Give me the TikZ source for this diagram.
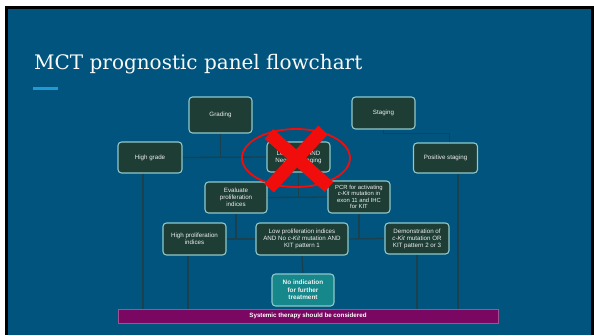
\documentclass[tikz,border=0pt]{standalone}
\usepackage{fontspec}
\setmainfont{Liberation Sans}
\newfontfamily\titlefont{DejaVu Serif}
\usetikzlibrary{backgrounds}
\definecolor{bgblue}{HTML}{01547D}
\definecolor{boxfill}{HTML}{1D3D35}
\definecolor{boxedge}{HTML}{8FC9CC}
\definecolor{linkcol}{HTML}{1A4150}
\definecolor{barpurple}{HTML}{7A0862}
\definecolor{tealfill}{HTML}{16878A}
\definecolor{accent}{HTML}{1E9BD7}
\definecolor{xred}{HTML}{F20D0D}
\tikzset{
  flowbox/.style={draw=boxedge, line width=1.1pt, fill=boxfill, rounded corners=3.5pt,
    text=white!88!gray, font=\fontsize{6.2}{7}\selectfont, align=center, inner sep=1pt},
  link/.style={draw=linkcol, line width=1.3pt},
}
\begin{document}
\begin{tikzpicture}[x=1pt,y=-1pt]
\useasboundingbox (0,0) rectangle (594,335);
% title
\node[anchor=base west, inner sep=0pt, text=white!95!gray, font=\titlefont\fontsize{20}{24}\selectfont] (title) at (34,69) {MCT prognostic panel flowchart};
% boxes
\node[flowbox, minimum width=63, minimum height=36] (grading) at (220.5,115) {Grading};
\node[flowbox, minimum width=63, minimum height=32] (staging) at (383.5,113) {Staging};
\node[flowbox, minimum width=64, minimum height=31] (highgrade) at (150,157.5) {High grade};
\node[flowbox, minimum width=63, minimum height=30] (middle) at (298.5,157) {Low grade AND\\Negative staging};
\node[flowbox, minimum width=64, minimum height=30] (posstaging) at (445.5,158) {Positive staging};
\node[flowbox, minimum width=62, minimum height=31] (evaluate) at (236,197.5) {Evaluate\\proliferation\\indices};
\node[flowbox, minimum width=62, minimum height=32, font=\fontsize{5.9}{6.3}\selectfont] (pcr) at (359,197) {PCR for activating\\\textit{c-Kit} mutation in\\exon 11 and IHC\\for KIT};
\node[flowbox, minimum width=63, minimum height=32] (highprolif) at (194.5,239) {High proliferation\\indices};
\node[flowbox, minimum width=92, minimum height=32] (lowprolif) at (302,239) {Low proliferation indices\\AND No \textit{c-Kit} mutation AND\\KIT pattern 1};
\node[flowbox, minimum width=64, minimum height=31] (demo) at (417,238.5) {Demonstration of\\\textit{c-Kit} mutation OR\\KIT pattern 2 or 3};
\node[flowbox, fill=tealfill, minimum width=62, minimum height=32, font=\bfseries\fontsize{6.4}{7.4}\selectfont] (noind) at (303,290) {No indication\\for further\\treatment};
\node[fill=barpurple, draw=barpurple!70!white, line width=0.6pt, minimum width=380, minimum height=14, inner sep=0pt, text=white, font=\bfseries\fontsize{6.2}{7}\selectfont] (bar) at (308,316) {Systemic therapy should be considered};
% connectors and backdrop
\begin{scope}[on background layer]
\fill[white] (0,0) rectangle (594,335);
\fill[black] (5,6) rectangle (594,335);
\fill[bgblue] (8,9) rectangle (591,335);
\fill[accent] (33,86.5) rectangle (58,89.5);
\draw[link] (grading.south) -- (grading.south |- middle.west);
\draw[link] (highgrade.east) -- (middle.west);
\draw[link] (staging.south) -- ++(0,4) -| ([xshift=4pt]posstaging.north);
\draw[link] (middle.south) -- (middle.south |- evaluate.east);
\draw[link] (evaluate.east) -- (pcr.west);
\draw[link] ([xshift=-7pt]highgrade.south) -- ([xshift=-7pt]highgrade.south |- bar.north);
\draw[link] ([xshift=12.5pt]posstaging.south) -- ([xshift=12.5pt]posstaging.south |- bar.north);
\draw[link] (evaluate.south) -- (evaluate.south |- highprolif.east);
\draw[link] (highprolif.east) -- (lowprolif.west);
\draw[link] (pcr.south) -- (pcr.south |- demo.west);
\draw[link] (lowprolif.east) -- (demo.west);
\draw[link] ([xshift=-6.5pt]highprolif.south) -- ([xshift=-6.5pt]highprolif.south |- bar.north);
\draw[link] (demo.south) -- (demo.south |- bar.north);
\draw[link] (lowprolif.south) -- (noind.north);
\end{scope}
% cross-out
\draw[xred, line width=1.8pt] (296,158) ellipse [x radius=54, y radius=29];
\draw[xred, line width=13pt] (269,134) -- (329,187);
\draw[xred, line width=13pt] (323,130) -- (269,188);
\end{tikzpicture}
\end{document}
